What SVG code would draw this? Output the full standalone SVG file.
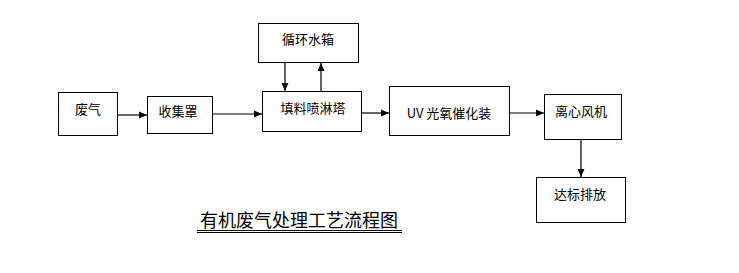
<svg xmlns="http://www.w3.org/2000/svg" width="739" height="273" viewBox="0 0 739 273">
<defs>
<marker id="ah" markerWidth="8" markerHeight="8" refX="8" refY="4" orient="auto" markerUnits="userSpaceOnUse">
<path d="M0,0.5 L8,4 L0,7.5 Z" fill="#000"/>
</marker>
</defs>
<style>
.box{fill:#fff;stroke:#000;stroke-width:1}
.t{font-family:"Noto Sans CJK SC","Liberation Sans",sans-serif;font-size:13px;fill:#000;text-anchor:middle;dominant-baseline:central}
.c{stroke:#000;stroke-width:1.2;fill:none;marker-end:url(#ah)}
</style>
<rect width="739" height="273" fill="#fff"/>
<g id="n1"><rect class="box" x="58.5" y="92.5" width="59" height="43"/><text class="t" x="88" y="108">废气</text></g>
<g id="n2"><rect class="box" x="147.5" y="96.5" width="65" height="37"/><text class="t" x="178" y="110">收集罩</text></g>
<g id="n3"><rect class="box" x="258.5" y="23.5" width="100" height="39"/><text class="t" x="308" y="38">循环水箱</text></g>
<g id="n4"><rect class="box" x="262.5" y="91.5" width="99" height="40"/><text class="t" x="313" y="107">填料喷淋塔</text></g>
<g id="n5"><rect class="box" x="389.5" y="86.5" width="120" height="49"/><text class="t" x="449" y="112">UV 光氧催化装</text></g>
<g id="n6"><rect class="box" x="544.5" y="94.5" width="77" height="45"/><text class="t" x="581" y="110">离心风机</text></g>
<g id="n7"><rect class="box" x="536.5" y="177.5" width="89" height="45"/><text class="t" x="580" y="193">达标排放</text></g>
<g id="connectors">
<line class="c" x1="117" y1="115" x2="147" y2="115"/>
<line class="c" x1="212" y1="114" x2="262" y2="114"/>
<line class="c" x1="285" y1="63" x2="285" y2="91"/>
<line class="c" x1="321" y1="91" x2="321" y2="63"/>
<line class="c" x1="361" y1="113" x2="389" y2="113"/>
<line class="c" x1="509" y1="113" x2="544" y2="113"/>
<line class="c" x1="581" y1="139" x2="581" y2="177"/>
</g>
<g id="title">
<text x="299" y="227" font-family="Noto Sans CJK SC,Liberation Sans,sans-serif" font-size="18" text-anchor="middle" fill="#000">有机废气处理工艺流程图</text>
<line x1="197" y1="230.5" x2="402" y2="230.5" stroke="#000" stroke-width="1"/>
<line x1="197" y1="232.5" x2="402" y2="232.5" stroke="#000" stroke-width="1"/>
</g>
</svg>
